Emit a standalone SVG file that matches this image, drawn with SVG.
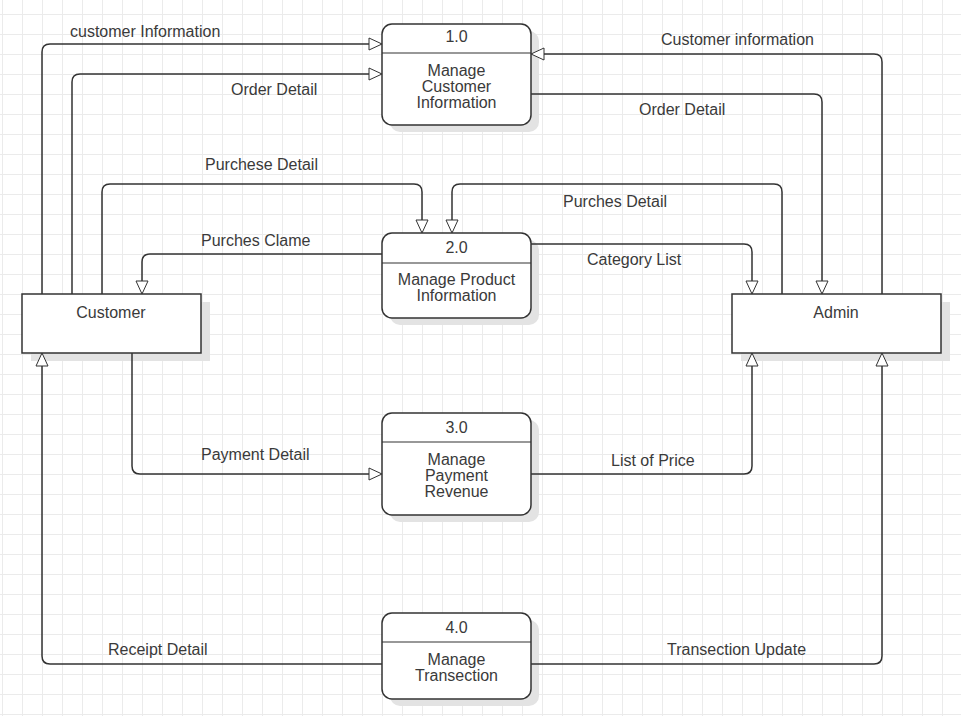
<svg xmlns="http://www.w3.org/2000/svg" width="961" height="716" viewBox="0 0 961 716">
<defs>
<pattern id="grid" x="2" y="14" width="20" height="20" patternUnits="userSpaceOnUse">
<path d="M0.5 0 V20 M0 0.5 H20" fill="none" stroke="#ebebeb" stroke-width="1"/>
</pattern>
<marker id="arr" markerUnits="userSpaceOnUse" markerWidth="16" markerHeight="14" refX="13" refY="6" orient="auto" viewBox="-1 -1 16 14">
<path d="M0,0 L13,6 L0,12 Z" fill="#fff" stroke="#333" stroke-width="1"/>
</marker>
<style>
.t{font-family:"Liberation Sans",Arial,sans-serif;font-size:16px;fill:#3a3a3a}
.m{text-anchor:middle}
.c{fill:none;stroke:#333;stroke-width:1.5;marker-end:url(#arr)}
.sh{fill:#e3e3e3}
.box{fill:#fff;stroke:#333;stroke-width:1.5}
.div{stroke:#333;stroke-width:1.2}
</style>
</defs>
<rect width="961" height="716" fill="#fff"/>
<rect width="961" height="716" fill="url(#grid)"/>

<g id="customer">
<rect class="sh" x="31" y="302" width="179" height="59"/>
<rect class="box" x="22" y="294" width="179" height="59"/>
<text class="t m" x="111" y="318">Customer</text>
</g>

<g id="admin">
<rect class="sh" x="741" y="302" width="209" height="59"/>
<rect class="box" x="732" y="294" width="209" height="59"/>
<text class="t m" x="836" y="318">Admin</text>
</g>

<g id="p1">
<rect class="sh" x="390" y="31" width="149" height="101" rx="10"/>
<rect class="box" x="382" y="24" width="149" height="101" rx="10"/>
<line class="div" x1="382" y1="53" x2="531" y2="53"/>
<text class="t m" x="456.5" y="42">1.0</text>
<text class="t m" x="456.5" y="76">Manage</text>
<text class="t m" x="456.5" y="92">Customer</text>
<text class="t m" x="456.5" y="108">Information</text>
</g>

<g id="p2">
<rect class="sh" x="390" y="240" width="149" height="85" rx="10"/>
<rect class="box" x="382" y="233" width="149" height="85" rx="10"/>
<line class="div" x1="382" y1="263" x2="531" y2="263"/>
<text class="t m" x="456.5" y="253">2.0</text>
<text class="t m" x="456.5" y="285">Manage Product</text>
<text class="t m" x="456.5" y="301">Information</text>
</g>

<g id="p3">
<rect class="sh" x="390" y="420" width="149" height="102" rx="10"/>
<rect class="box" x="382" y="413" width="149" height="102" rx="10"/>
<line class="div" x1="382" y1="442" x2="531" y2="442"/>
<text class="t m" x="456.5" y="433">3.0</text>
<text class="t m" x="456.5" y="465">Manage</text>
<text class="t m" x="456.5" y="481">Payment</text>
<text class="t m" x="456.5" y="497">Revenue</text>
</g>

<g id="p4">
<rect class="sh" x="390" y="620" width="149" height="86" rx="10"/>
<rect class="box" x="382" y="613" width="149" height="86" rx="10"/>
<line class="div" x1="382" y1="642" x2="531" y2="642"/>
<text class="t m" x="456.5" y="633">4.0</text>
<text class="t m" x="456.5" y="665">Manage</text>
<text class="t m" x="456.5" y="681">Transection</text>
</g>

<g id="connectors">
<path class="c" d="M42,294 V52 Q42,44 50,44 H382"/>
<path class="c" d="M72,294 V82 Q72,74 80,74 H382"/>
<path class="c" d="M531,94 H814 Q822,94 822,102 V294"/>
<path class="c" d="M882,294 V62 Q882,54 874,54 H531"/>
<path class="c" d="M102,294 V192 Q102,184 110,184 H414 Q422,184 422,192 V233"/>
<path class="c" d="M782,294 V192 Q782,184 774,184 H460 Q452,184 452,192 V233"/>
<path class="c" d="M382,254 H150 Q142,254 142,262 V294"/>
<path class="c" d="M531,244 H744 Q752,244 752,252 V294"/>
<path class="c" d="M132,353 V466 Q132,474 140,474 H382"/>
<path class="c" d="M531,474 H744 Q752,474 752,466 V353"/>
<path class="c" d="M382,664 H50 Q42,664 42,656 V353"/>
<path class="c" d="M531,664 H874 Q882,664 882,656 V353"/>
<text class="t" x="70" y="37">customer Information</text>
<text class="t" x="231" y="95">Order Detail</text>
<text class="t" x="661" y="45">Customer information</text>
<text class="t" x="639" y="115">Order Detail</text>
<text class="t" x="205" y="170">Purchese Detail</text>
<text class="t" x="563" y="207">Purches Detail</text>
<text class="t" x="201" y="246">Purches Clame</text>
<text class="t" x="587" y="265">Category List</text>
<text class="t" x="201" y="460">Payment Detail</text>
<text class="t" x="611" y="466">List of Price</text>
<text class="t" x="108" y="655">Receipt Detail</text>
<text class="t" x="667" y="655">Transection Update</text>
</g>
</svg>
